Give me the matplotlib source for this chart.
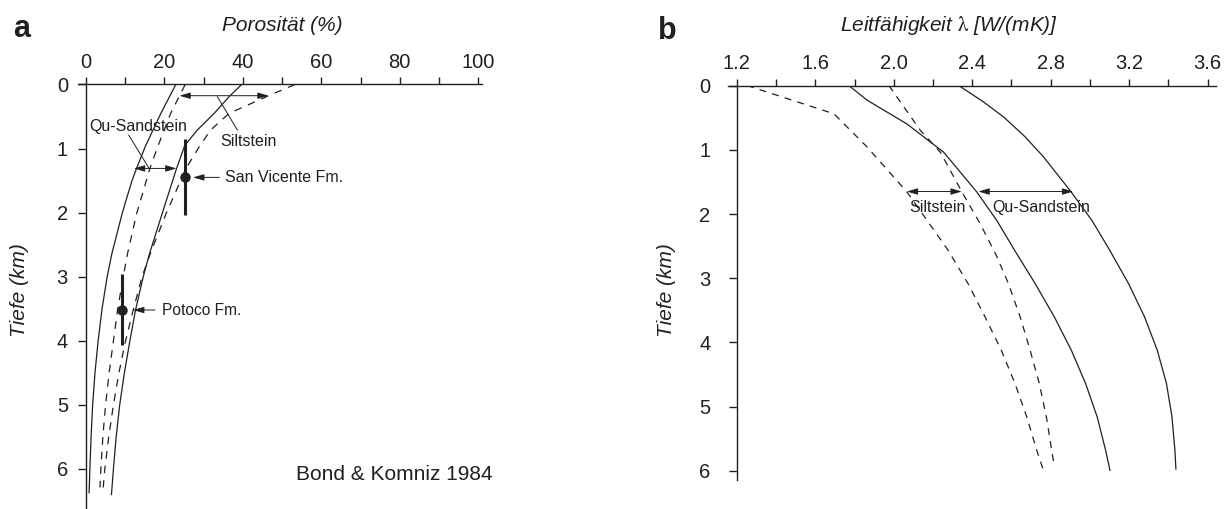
import matplotlib
matplotlib.use('Agg')
import matplotlib.pyplot as plt

plt.rcParams['font.family'] = ['Liberation Sans', 'DejaVu Sans']
plt.rcParams['mathtext.fontset'] = 'stix'
plt.rcParams['lines.scale_dashes'] = False

INK = '#231f20'

# --- panel a: porosity (%) vs depth (km), Bond & Komniz 1984 ---
sand_lo_depth = [0, 0.45, 0.97, 1.31, 1.49, 1.81, 2.02, 2.64, 3.0, 3.5, 4.0, 4.5, 5.0, 5.5, 6.0, 6.37]
sand_lo_por = [22.9, 19.1, 15.1, 12.9, 11.8, 10.2, 9.2, 6.6, 5.4, 4.1, 3.1, 2.3, 1.7, 1.3, 1.0, 0.8]
sand_hi_depth = [0, 0.19, 0.45, 0.71, 0.95, 1.31, 2.02, 2.64, 3.0, 3.53, 4.0, 4.5, 5.0, 5.5, 6.0, 6.4]
sand_hi_por = [39.7, 36.5, 32.7, 28.4, 25.2, 23.1, 19.4, 16.2, 14.6, 12.6, 11.2, 9.8, 8.6, 7.7, 7.0, 6.5]
silt_lo_depth = [0, 0.45, 0.97, 1.31, 2.02, 2.64, 3.0, 3.5, 4.0, 4.5, 5.0, 5.5, 6.0, 6.29]
silt_lo_por = [25.3, 21.6, 18.3, 16.3, 12.9, 10.6, 9.5, 8.1, 7.0, 5.9, 5.0, 4.3, 3.8, 3.56]
silt_hi_depth = [0, 0.15, 0.45, 0.71, 0.97, 1.31, 2.02, 2.64, 3.0, 3.53, 4.0, 4.5, 5.0, 5.5, 6.0, 6.29]
silt_hi_por = [53.3, 47.5, 36.5, 31.8, 28.9, 25.5, 20.4, 16.4, 14.3, 12.0, 10.1, 8.4, 7.0, 5.8, 4.8, 4.4]

# measured formations: (porosity, depth top, depth bottom, depth of point)
san_vicente = (25.2, 0.855, 2.04, 1.45)
potoco = (9.1, 2.96, 4.07, 3.52)

por_ticks = [0, 20, 40, 60, 80, 100]
por_minor = [10, 30, 50, 70, 90]

# --- panel b: thermal conductivity W/(mK) vs depth (km) ---
silt_lo_l_depth = [0, 0.44, 0.96, 1.66, 2.10, 2.56, 3.08, 3.60, 4.12, 4.64, 5.16, 5.68, 6.02]
silt_lo_l = [1.252, 1.695, 1.865, 2.068, 2.17, 2.276, 2.378, 2.465, 2.548, 2.618, 2.678, 2.729, 2.766]
silt_hi_l_depth = [0, 0.70, 1.04, 1.66, 2.15, 2.64, 3.08, 3.60, 4.12, 4.64, 5.16, 5.68, 5.90]
silt_hi_l = [1.975, 2.136, 2.238, 2.348, 2.44, 2.522, 2.584, 2.644, 2.695, 2.742, 2.778, 2.805, 2.817]
sand_lo_l_depth = [0, 0.23, 0.60, 1.04, 1.66, 2.10, 2.56, 3.08, 3.60, 4.12, 4.64, 5.16, 5.68, 5.99]
sand_lo_l = [1.771, 1.865, 2.068, 2.255, 2.424, 2.525, 2.615, 2.72, 2.818, 2.905, 2.978, 3.037, 3.08, 3.102]
sand_hi_l_depth = [0, 0.25, 0.49, 0.80, 1.11, 1.66, 2.10, 2.56, 3.08, 3.60, 4.12, 4.64, 5.16, 5.68, 5.97]
sand_hi_l = [2.331, 2.455, 2.56, 2.67, 2.763, 2.905, 3.01, 3.10, 3.196, 3.278, 3.343, 3.39, 3.418, 3.433, 3.438]

lam_ticks = [1.2, 1.6, 2.0, 2.4, 2.8, 3.2, 3.6]
lam_labels = ['1.2', '1.6', '2.0', '2.4', '2.8', '3.2', '3.6']
lam_minor = [1.4, 1.8, 2.2, 2.6, 3.0, 3.4]

depth_ticks = [0, 1, 2, 3, 4, 5, 6]


def style_axes(ax, x0, xlim, ylim, ypad):
    """depth axis down, value axis on top, left spine at x0"""
    ax.set_xlim(*xlim)
    ax.set_ylim(*ylim)
    ax.xaxis.tick_top()
    ax.spines['bottom'].set_visible(False)
    ax.spines['right'].set_visible(False)
    ax.spines['left'].set_position(('data', x0))
    for s in ('top', 'left'):
        ax.spines[s].set_linewidth(1.0)
        ax.spines[s].set_color(INK)
    ax.set_yticks(depth_ticks)
    ax.tick_params(axis='x', which='both', direction='out', length=5, width=1.0,
                   pad=4, labelsize=14.5, colors=INK, top=True, bottom=False)
    ax.tick_params(axis='y', direction='out', length=6, width=1.0, pad=ypad,
                   labelsize=14.5, colors=INK)


def arrow(ax, x1, x2, y, style='<|-|>'):
    ax.annotate('', xy=(x2, y), xytext=(x1, y),
                arrowprops=dict(arrowstyle=style + ',head_length=0.55,head_width=0.16',
                                lw=0.7, color=INK, shrinkA=0, shrinkB=0,
                                mutation_scale=12))


fig = plt.figure(figsize=(12.32, 5.09), dpi=100)

# ---------------- panel a ----------------
ax = fig.add_axes([0.0631, 0.002, 0.3282, 0.832])
style_axes(ax, 0, (-2.1, 101.0), (6.61, 0), 7)
ax.set_xticks(por_ticks)
ax.set_xticks(por_minor, minor=True)

dash_a = (0, (5.5, 5.0))
ax.plot(sand_lo_por, sand_lo_depth, color=INK, lw=0.9)
ax.plot(sand_hi_por, sand_hi_depth, color=INK, lw=0.9)
ax.plot(silt_lo_por, silt_lo_depth, color=INK, lw=0.9, linestyle=dash_a)
ax.plot(silt_hi_por, silt_hi_depth, color=INK, lw=0.9, linestyle=dash_a)

for x, d_top, d_bot, d_pt in (san_vicente, potoco):
    ax.plot([x, x], [d_top, d_bot], color=INK, lw=2.2, solid_capstyle='butt')
    ax.plot(x, d_pt, 'o', color=INK, markersize=6.5)

arrow(ax, 23.8, 46.6, 0.175)
arrow(ax, 12.2, 23.1, 1.31)
ax.plot([33.5, 38.6], [0.19, 0.71], color=INK, lw=0.7)
ax.plot([10.9, 16.1], [0.79, 1.31], color=INK, lw=0.7)
arrow(ax, 34.0, 27.3, 1.45, style='-|>')
arrow(ax, 17.6, 12.0, 3.52, style='-|>')

ax.text(13.2, 0.66, 'Qu-Sandstein', fontsize=11.5, ha='center', va='center', color=INK)
ax.text(41.4, 0.89, 'Siltstein', fontsize=11.5, ha='center', va='center', color=INK)
ax.text(35.5, 1.45, 'San Vicente Fm.', fontsize=11.5, ha='left', va='center', color=INK)
ax.text(19.4, 3.53, 'Potoco Fm.', fontsize=11.2, ha='left', va='center', color=INK)
ax.text(53.5, 6.08, 'Bond & Komniz 1984', fontsize=15, ha='left', va='center', color=INK)

# ---------------- panel b ----------------
bx = fig.add_axes([0.5912, 0.057, 0.3956, 0.775])
style_axes(bx, 1.2, (1.157, 3.641), (6.14, 0), 13)
bx.set_xticks(lam_ticks)
bx.set_xticklabels(lam_labels)
bx.set_xticks(lam_minor, minor=True)

dash_b = (0, (5, 4.5))
bx.plot(silt_lo_l, silt_lo_l_depth, color=INK, lw=0.9, linestyle=dash_b)
bx.plot(silt_hi_l, silt_hi_l_depth, color=INK, lw=0.9, linestyle=dash_b)
bx.plot(sand_lo_l, sand_lo_l_depth, color=INK, lw=0.9)
bx.plot(sand_hi_l, sand_hi_l_depth, color=INK, lw=0.9)

arrow(bx, 2.066, 2.347, 1.65)
arrow(bx, 2.431, 2.915, 1.65)
bx.text(2.222, 1.90, 'Siltstein', fontsize=11.5, ha='center', va='center', color=INK)
bx.text(2.751, 1.90, 'Qu-Sandstein', fontsize=11.5, ha='center', va='center', color=INK)

# ---------------- titles and labels ----------------
fig.text(0.2293, 0.949, 'Porosität (%)', fontsize=15, style='italic',
         ha='center', va='center', color=INK)
fig.text(0.770, 0.949, r'Leitfähigkeit $\mathrm{\lambda}$ [W/(mK)]', fontsize=15,
         style='italic', ha='center', va='center', color=INK)
fig.text(0.0162, 0.430, 'Tiefe (km)', fontsize=15, style='italic', rotation=90,
         ha='center', va='center', color=INK)
fig.text(0.5406, 0.430, 'Tiefe (km)', fontsize=15, style='italic', rotation=90,
         ha='center', va='center', color=INK)
fig.text(0.0108, 0.928, 'a', fontsize=22, fontweight='bold', ha='left',
         va='baseline', color=INK)
fig.text(0.534, 0.923, 'b', fontsize=22, fontweight='bold', ha='left',
         va='baseline', color=INK)

fig.savefig('out.png', dpi=100)
